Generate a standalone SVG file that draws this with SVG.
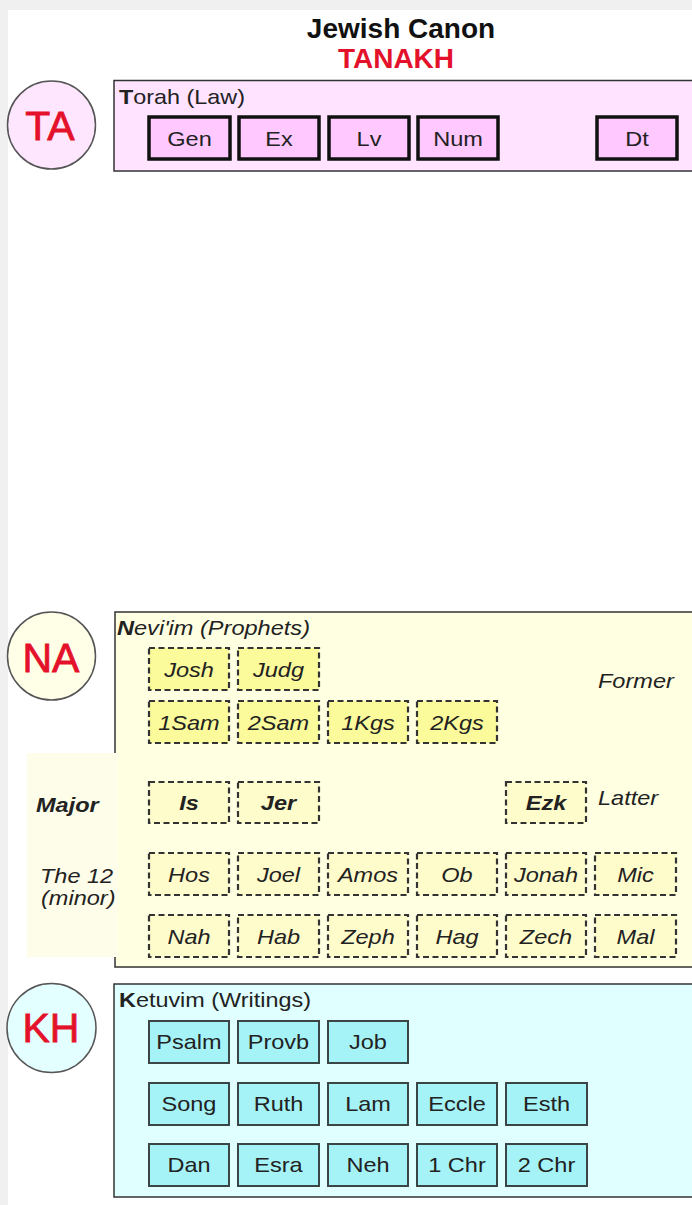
<svg xmlns="http://www.w3.org/2000/svg" width="692" height="1205" viewBox="0 0 692 1205">
<style>
text{font-family:"Liberation Sans",Arial,sans-serif;fill:#222;font-size:21px}
.c{text-anchor:middle}
.it{font-style:italic}
.b{font-weight:bold}
.circ{stroke:#555;stroke-width:1.5}
.ctext{fill:#e4112b;stroke:#e4112b;stroke-width:0.8;font-size:41px;text-anchor:middle}
.sec{stroke:#333;stroke-width:1.5}
.tb{fill:#ffc8ff;stroke:#111;stroke-width:3.5}
.fb{fill:#fbfb9b;stroke:#333;stroke-width:2.2;stroke-dasharray:6 3.5}
.lb{fill:#fffccc;stroke:#333;stroke-width:2.2;stroke-dasharray:6 3.5}
.kb{fill:#a6f3f7;stroke:#3a4646;stroke-width:2}
</style>
<rect x="0" y="0" width="692" height="1205" fill="#f0f0f0"/>
<rect x="8" y="10" width="684" height="1195" fill="#ffffff"/>

<g id="title">
<text class="c b" x="401" y="38" style="font-size:28px;fill:#111">Jewish Canon</text>
<text class="c b" x="396" y="68" style="font-size:28px;fill:#e4112b">TANAKH</text>
</g>

<g id="torah">
<rect class="sec" x="114" y="80.5" width="590" height="90.5" fill="#ffe3ff"/>
<text x="119" y="104" textLength="126" lengthAdjust="spacingAndGlyphs"><tspan class="b">T</tspan>orah (Law)</text>
</g>
<g id="TA">
<circle class="circ" cx="51.5" cy="125" r="44" fill="#ffe6ff"/>
<text class="ctext" x="50" y="140">TA</text>
</g>
<g id="Gen"><rect class="tb" x="149" y="117" width="81" height="42"/><text class="c" x="189.5" y="145.5" textLength="44.5" lengthAdjust="spacingAndGlyphs">Gen</text></g>
<g id="Ex"><rect class="tb" x="239" y="117" width="80" height="42"/><text class="c" x="279" y="145.5" textLength="27.4" lengthAdjust="spacingAndGlyphs">Ex</text></g>
<g id="Lv"><rect class="tb" x="329" y="117" width="80" height="42"/><text class="c" x="369" y="145.5" textLength="24.8" lengthAdjust="spacingAndGlyphs">Lv</text></g>
<g id="Num"><rect class="tb" x="418" y="117" width="80" height="42"/><text class="c" x="458" y="145.5" textLength="49.7" lengthAdjust="spacingAndGlyphs">Num</text></g>
<g id="Dt"><rect class="tb" x="597" y="117" width="80" height="42"/><text class="c" x="637" y="145.5" textLength="23.5" lengthAdjust="spacingAndGlyphs">Dt</text></g>

<g id="neviim">
<rect class="sec" x="115" y="612" width="590" height="355" fill="#ffffe1"/>
<rect x="27" y="753" width="91" height="204" fill="#fdfde9"/>
<text class="it" x="117" y="635" textLength="193" lengthAdjust="spacingAndGlyphs"><tspan class="b">N</tspan>evi'im (Prophets)</text>
<text class="it" x="598" y="688" textLength="75.8" lengthAdjust="spacingAndGlyphs">Former</text>
<text class="it" x="598" y="805" textLength="60.1" lengthAdjust="spacingAndGlyphs">Latter</text>
<text class="it b" x="36" y="812" textLength="62.7" lengthAdjust="spacingAndGlyphs">Major</text>
<text class="it" x="40" y="883" textLength="73.2" lengthAdjust="spacingAndGlyphs">The 12</text>
<text class="it" x="41" y="905" textLength="74.5" lengthAdjust="spacingAndGlyphs">(minor)</text>
</g>
<g id="NA">
<circle class="circ" cx="51.5" cy="656" r="44" fill="#ffffe8"/>
<text class="ctext" x="51" y="672">NA</text>
</g>
<g id="Josh"><rect class="fb" x="149" y="648" width="80" height="42"/><text class="c it" x="189" y="676.5" textLength="49.7" lengthAdjust="spacingAndGlyphs">Josh</text></g>
<g id="Judg"><rect class="fb" x="238" y="648" width="81" height="42"/><text class="c it" x="278.5" y="676.5" textLength="51" lengthAdjust="spacingAndGlyphs">Judg</text></g>
<g id="1Sam"><rect class="fb" x="149" y="701" width="80" height="42"/><text class="c it" x="189" y="729.5" textLength="61.4" lengthAdjust="spacingAndGlyphs">1Sam</text></g>
<g id="2Sam"><rect class="fb" x="238" y="701" width="81" height="42"/><text class="c it" x="278.5" y="729.5" textLength="61.4" lengthAdjust="spacingAndGlyphs">2Sam</text></g>
<g id="1Kgs"><rect class="fb" x="328" y="701" width="80" height="42"/><text class="c it" x="368" y="729.5" textLength="53.6" lengthAdjust="spacingAndGlyphs">1Kgs</text></g>
<g id="2Kgs"><rect class="fb" x="417" y="701" width="80" height="42"/><text class="c it" x="457" y="729.5" textLength="53.6" lengthAdjust="spacingAndGlyphs">2Kgs</text></g>
<g id="Is"><rect class="lb" x="149" y="782" width="80" height="41"/><text class="c it b" x="189" y="810" textLength="19.6" lengthAdjust="spacingAndGlyphs">Is</text></g>
<g id="Jer"><rect class="lb" x="238" y="782" width="81" height="41"/><text class="c it b" x="278.5" y="810" textLength="35.3" lengthAdjust="spacingAndGlyphs">Jer</text></g>
<g id="Ezk"><rect class="lb" x="506" y="782" width="80" height="41"/><text class="c it b" x="546" y="810" textLength="40.5" lengthAdjust="spacingAndGlyphs">Ezk</text></g>
<g id="Hos"><rect class="lb" x="149" y="853" width="80" height="42"/><text class="c it" x="189" y="881.5" textLength="41.8" lengthAdjust="spacingAndGlyphs">Hos</text></g>
<g id="Joel"><rect class="lb" x="238" y="853" width="81" height="42"/><text class="c it" x="278.5" y="881.5" textLength="43.1" lengthAdjust="spacingAndGlyphs">Joel</text></g>
<g id="Amos"><rect class="lb" x="328" y="853" width="80" height="42"/><text class="c it" x="368" y="881.5" textLength="60.1" lengthAdjust="spacingAndGlyphs">Amos</text></g>
<g id="Ob"><rect class="lb" x="417" y="853" width="80" height="42"/><text class="c it" x="457" y="881.5" textLength="31.4" lengthAdjust="spacingAndGlyphs">Ob</text></g>
<g id="Jonah"><rect class="lb" x="506" y="853" width="80" height="42"/><text class="c it" x="546" y="881.5" textLength="64.1" lengthAdjust="spacingAndGlyphs">Jonah</text></g>
<g id="Mic"><rect class="lb" x="595" y="853" width="81" height="42"/><text class="c it" x="635.5" y="881.5" textLength="36.6" lengthAdjust="spacingAndGlyphs">Mic</text></g>
<g id="Nah"><rect class="lb" x="149" y="915" width="80" height="42"/><text class="c it" x="189" y="943.5" textLength="43.1" lengthAdjust="spacingAndGlyphs">Nah</text></g>
<g id="Hab"><rect class="lb" x="238" y="915" width="81" height="42"/><text class="c it" x="278.5" y="943.5" textLength="43.1" lengthAdjust="spacingAndGlyphs">Hab</text></g>
<g id="Zeph"><rect class="lb" x="328" y="915" width="80" height="42"/><text class="c it" x="368" y="943.5" textLength="53.6" lengthAdjust="spacingAndGlyphs">Zeph</text></g>
<g id="Hag"><rect class="lb" x="417" y="915" width="80" height="42"/><text class="c it" x="457" y="943.5" textLength="43.1" lengthAdjust="spacingAndGlyphs">Hag</text></g>
<g id="Zech"><rect class="lb" x="506" y="915" width="80" height="42"/><text class="c it" x="546" y="943.5" textLength="52.3" lengthAdjust="spacingAndGlyphs">Zech</text></g>
<g id="Mal"><rect class="lb" x="595" y="915" width="81" height="42"/><text class="c it" x="635.5" y="943.5" textLength="37.9" lengthAdjust="spacingAndGlyphs">Mal</text></g>

<g id="ketuvim">
<rect class="sec" x="114" y="984" width="590" height="213" fill="#e0ffff"/>
<text x="119" y="1007" textLength="192" lengthAdjust="spacingAndGlyphs"><tspan class="b">K</tspan>etuvim (Writings)</text>
</g>
<g id="KH">
<circle class="circ" cx="51.5" cy="1028" r="44.5" fill="#e4ffff"/>
<text class="ctext" x="51" y="1042">KH</text>
</g>
<g id="Psalm"><rect class="kb" x="149" y="1021" width="80" height="42"/><text class="c" x="189" y="1049" textLength="65.3" lengthAdjust="spacingAndGlyphs">Psalm</text></g>
<g id="Provb"><rect class="kb" x="238" y="1021" width="81" height="42"/><text class="c" x="278.5" y="1049" textLength="61.4" lengthAdjust="spacingAndGlyphs">Provb</text></g>
<g id="Job"><rect class="kb" x="328" y="1021" width="80" height="42"/><text class="c" x="368" y="1049" textLength="37.9" lengthAdjust="spacingAndGlyphs">Job</text></g>
<g id="Song"><rect class="kb" x="149" y="1083" width="80" height="42"/><text class="c" x="189" y="1111" textLength="54.9" lengthAdjust="spacingAndGlyphs">Song</text></g>
<g id="Ruth"><rect class="kb" x="238" y="1083" width="81" height="42"/><text class="c" x="278.5" y="1111" textLength="49.7" lengthAdjust="spacingAndGlyphs">Ruth</text></g>
<g id="Lam"><rect class="kb" x="328" y="1083" width="80" height="42"/><text class="c" x="368" y="1111" textLength="45.7" lengthAdjust="spacingAndGlyphs">Lam</text></g>
<g id="Eccle"><rect class="kb" x="417" y="1083" width="80" height="42"/><text class="c" x="457" y="1111" textLength="57.5" lengthAdjust="spacingAndGlyphs">Eccle</text></g>
<g id="Esth"><rect class="kb" x="506" y="1083" width="81" height="42"/><text class="c" x="546.5" y="1111" textLength="47.1" lengthAdjust="spacingAndGlyphs">Esth</text></g>
<g id="Dan"><rect class="kb" x="149" y="1144" width="80" height="42"/><text class="c" x="189" y="1172" textLength="43.1" lengthAdjust="spacingAndGlyphs">Dan</text></g>
<g id="Esra"><rect class="kb" x="238" y="1144" width="81" height="42"/><text class="c" x="278.5" y="1172" textLength="48.4" lengthAdjust="spacingAndGlyphs">Esra</text></g>
<g id="Neh"><rect class="kb" x="328" y="1144" width="80" height="42"/><text class="c" x="368" y="1172" textLength="43.1" lengthAdjust="spacingAndGlyphs">Neh</text></g>
<g id="1Chr"><rect class="kb" x="417" y="1144" width="80" height="42"/><text class="c" x="457" y="1172" textLength="57.5" lengthAdjust="spacingAndGlyphs">1 Chr</text></g>
<g id="2Chr"><rect class="kb" x="506" y="1144" width="81" height="42"/><text class="c" x="546.5" y="1172" textLength="57.5" lengthAdjust="spacingAndGlyphs">2 Chr</text></g>

<g id="connectors"/>
</svg>
